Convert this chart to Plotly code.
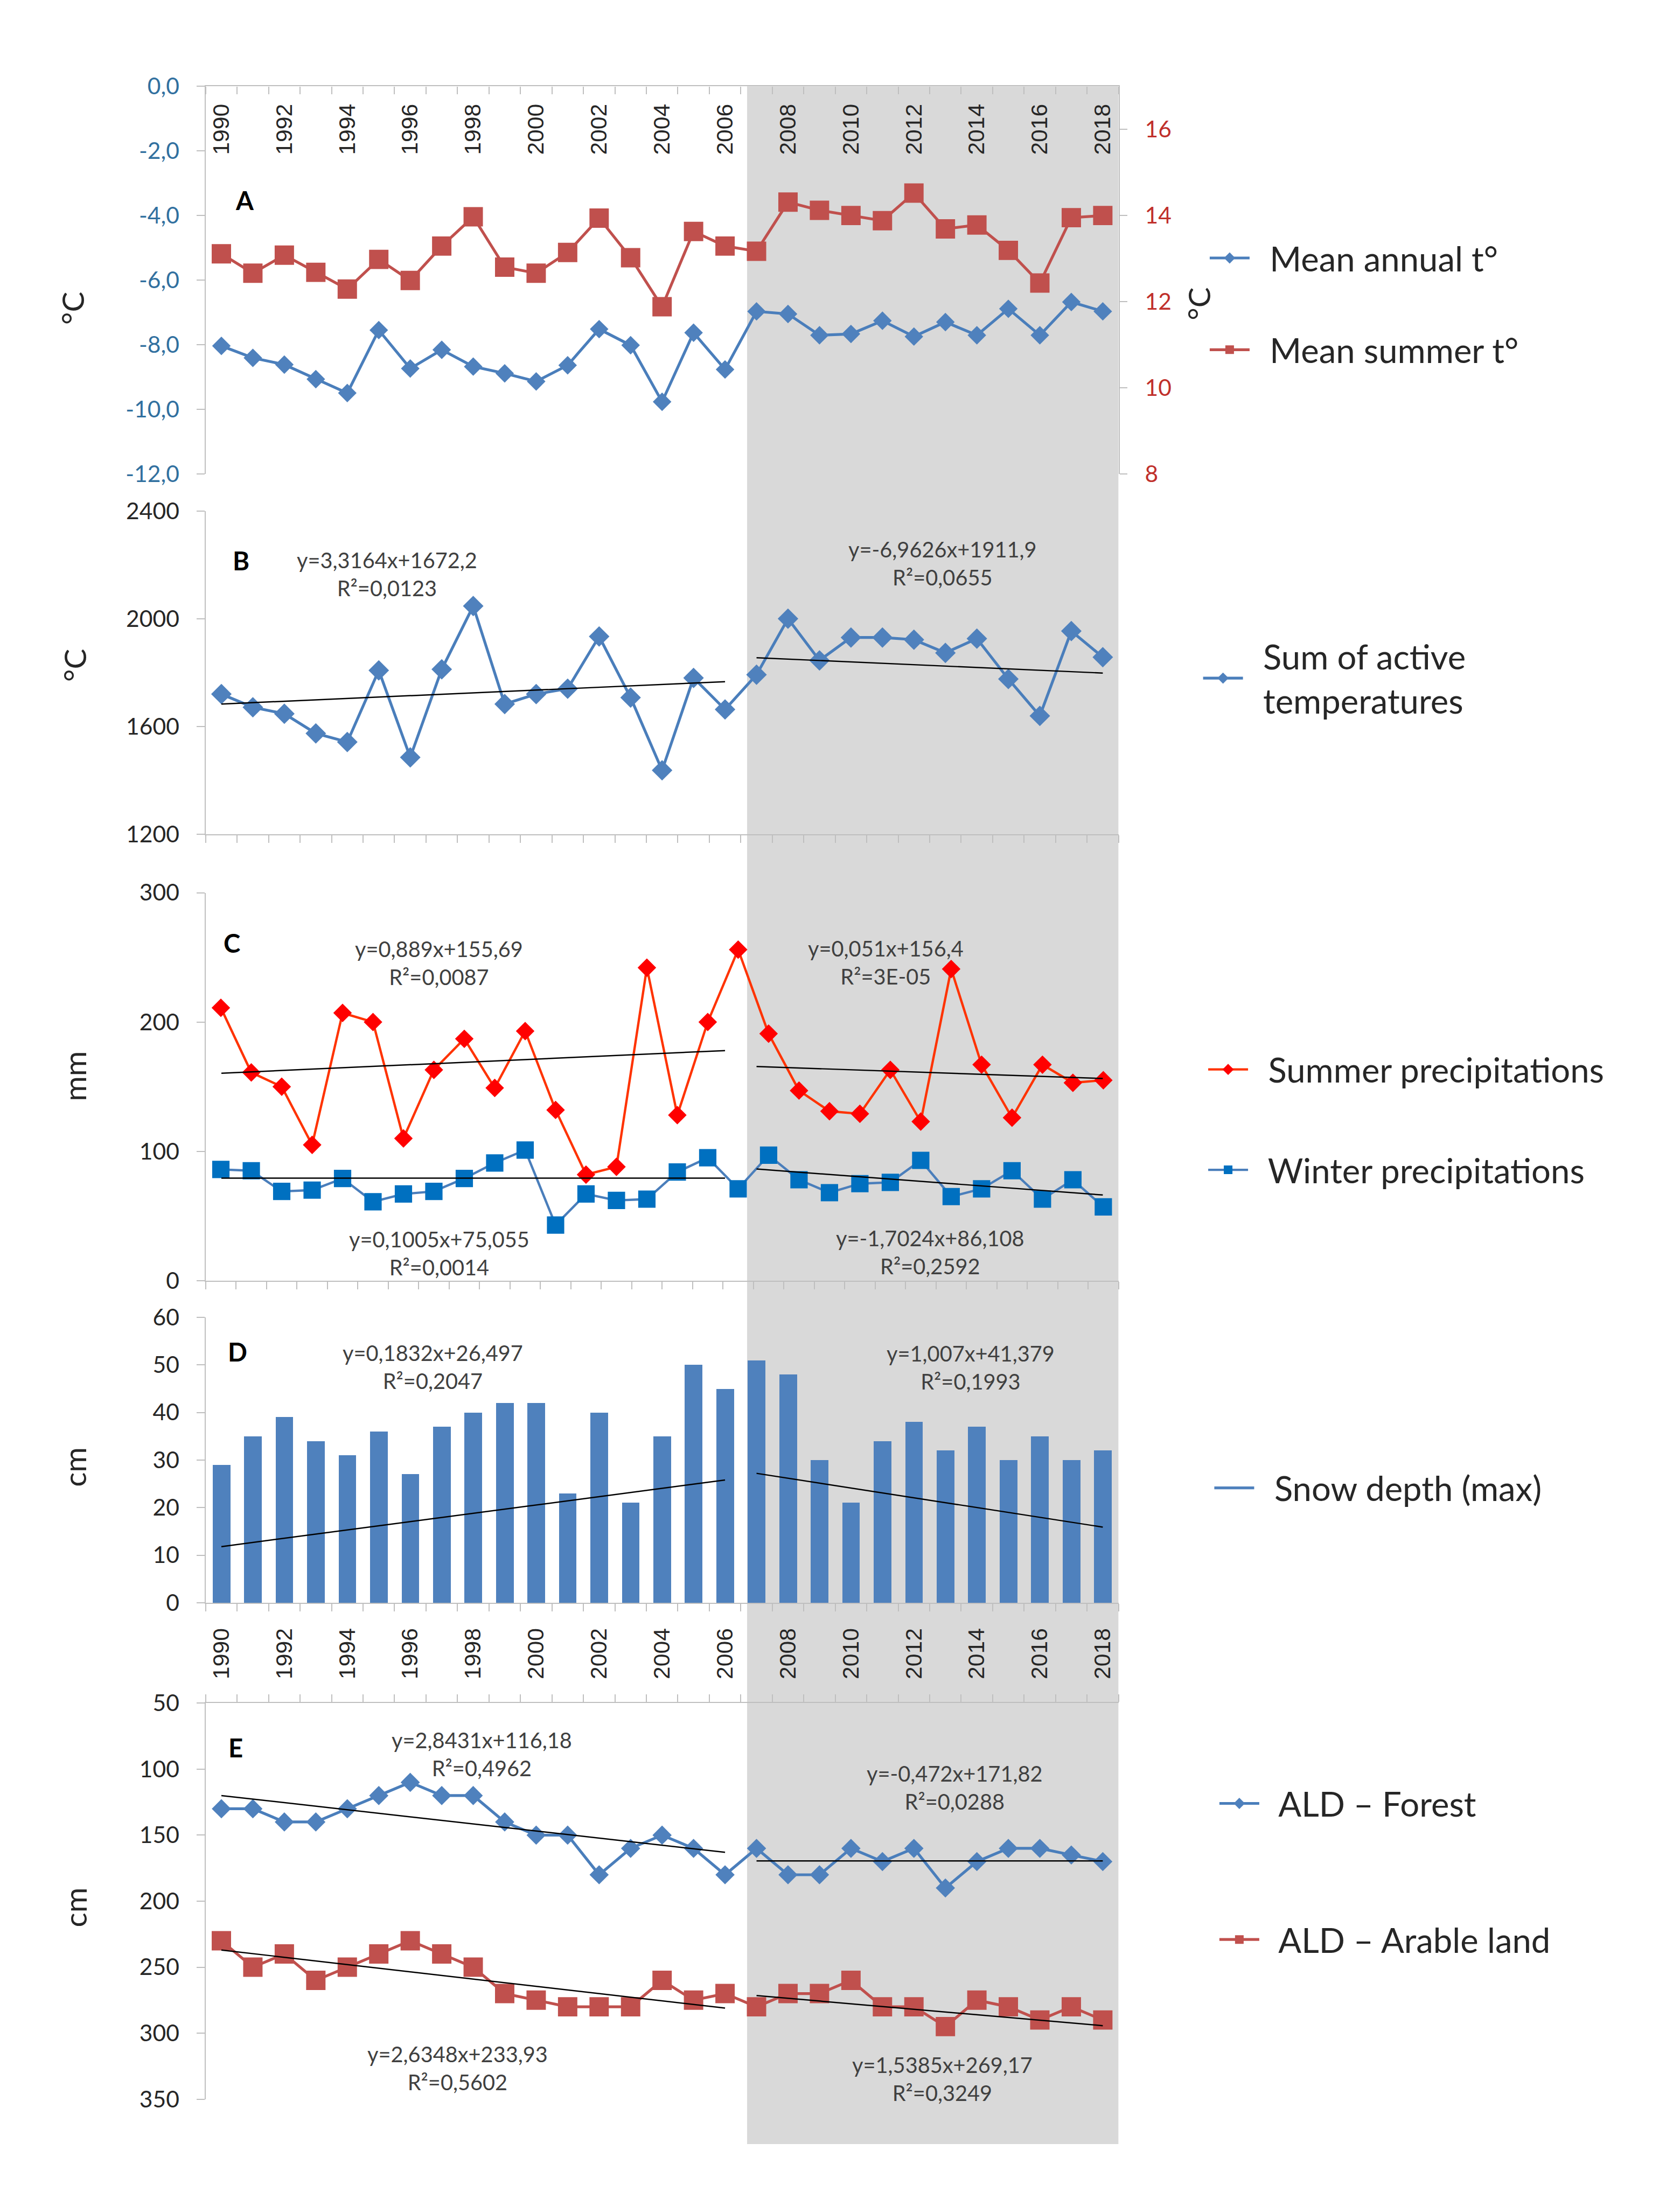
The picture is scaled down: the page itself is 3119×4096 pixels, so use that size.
import plotly.graph_objects as go

# ---------------- canvas ----------------
W, H = 3119, 4096
RW, RH = 3296, 4328          # reference size; everything is placed in reference px then scaled
S = W / RW


def fx(x):
    return x / RW


def fy(y):
    return 1 - y / RH


# ---------------- data ----------------
years = list(range(1990, 2019))
years_c = list(range(1989, 2019))          # panel C has 30 categories
label_years = list(range(1990, 2019, 2))

mean_annual = [-8.04, -8.41, -8.62, -9.07, -9.50, -7.55, -8.74, -8.16, -8.68, -8.89,
               -9.14, -8.64, -7.52, -8.02, -9.77, -7.63, -8.77, -6.97, -7.05, -7.71,
               -7.67, -7.26, -7.75, -7.30, -7.71, -6.89, -7.71, -6.68, -6.97]
mean_summer = [13.11, 12.66, 13.08, 12.68, 12.29, 12.98, 12.49, 13.29, 13.97, 12.80,
               12.66, 13.14, 13.94, 13.02, 11.88, 13.63, 13.29, 13.17, 14.31, 14.12,
               14.00, 13.88, 14.52, 13.69, 13.78, 13.19, 12.43, 13.95, 14.00]
active_temp = [1720, 1671, 1647, 1574, 1542, 1808, 1485, 1812, 2047, 1683,
               1720, 1740, 1934, 1707, 1437, 1780, 1663, 1792, 2000, 1845,
               1930, 1930, 1922, 1873, 1926, 1776, 1639, 1954, 1857]
summer_precip = [211, 161, 150, 105, 207, 200, 110, 163, 187, 149,
                 193, 132, 82, 88, 242, 128, 200, 256, 191, 147,
                 131, 129, 163, 123, 241, 167, 126, 167, 153, 155]
winter_precip = [86, 85, 69, 70, 79, 61, 67, 69, 79, 91,
                 101, 43, 67, 62, 63, 84, 95, 71, 97, 78,
                 68, 75, 76, 93, 65, 71, 85, 63, 78, 57]
snow_depth = [29, 35, 39, 34, 31, 36, 27, 37, 40, 42,
              42, 23, 40, 21, 35, 50, 45, 51, 48, 30,
              21, 34, 38, 32, 37, 30, 35, 30, 32]
ald_forest = [130, 130, 140, 140, 130, 120, 110, 120, 120, 140,
              150, 150, 180, 160, 150, 160, 180, 160, 180, 180,
              160, 170, 160, 190, 170, 160, 160, 165, 170]
ald_arable = [230, 250, 240, 260, 250, 240, 230, 240, 250, 270,
              275, 280, 280, 280, 260, 275, 270, 280, 270, 270,
              260, 280, 280, 295, 275, 280, 290, 280, 290]

# trend lines (end values)
trend_x_left = [1990, 2006]
trend_x_right = [2007, 2018]
trend_b_left, trend_b_right = [1683, 1766], [1855, 1798]
trend_cs_left, trend_cs_right = [160.4, 177.9], [165.6, 156.3]
trend_cw_left, trend_cw_right = [79.3, 79.3], [86.3, 66.2]
trend_d_left, trend_d_right = [11.8, 25.8], [27.2, 15.9]
trend_ef_left, trend_ef_right = [120.0, 163.0], [169.5, 169.5]
trend_ea_left, trend_ea_right = [237.0, 281.0], [271.5, 294.3]

# tick labels
a_left_vals = [-12, -10, -8, -6, -4, -2, 0]
a_left_text = ["-12,0", "-10,0", "-8,0", "-6,0", "-4,0", "-2,0", "0,0"]
a_right_vals = [8, 10, 12, 14, 16]
b_vals = [1200, 1600, 2000, 2400]
c_vals = [0, 100, 200, 300]
d_vals = [0, 10, 20, 30, 40, 50, 60]
e_vals = [50, 100, 150, 200, 250, 300, 350]

equations = [
    # (text, centre x, centre y) in reference px
    ("y=3,3164x+1672,2<br>R²=0,0123", 751, 1117),
    ("y=-6,9626x+1911,9<br>R²=0,0655", 1841, 1096),
    ("y=0,889x+155,69<br>R²=0,0087", 853, 1880),
    ("y=0,1005x+75,055<br>R²=0,0014", 853, 2450),
    ("y=0,051x+156,4<br>R²=3E-05", 1729, 1879),
    ("y=-1,7024x+86,108<br>R²=0,2592", 1817, 2448),
    ("y=0,1832x+26,497<br>R²=0,2047", 841, 2673),
    ("y=1,007x+41,379<br>R²=0,1993", 1896, 2674),
    ("y=2,8431x+116,18<br>R²=0,4962", 937, 3432),
    ("y=2,6348x+233,93<br>R²=0,5602", 889, 4048),
    ("y=-0,472x+171,82<br>R²=0,0288", 1865, 3498),
    ("y=1,5385x+269,17<br>R²=0,3249", 1840, 4070),
]

# ---------------- style ----------------
LATO = "Lato, 'Open Sans', sans-serif"
ARIAL = "'Liberation Sans', Arial, sans-serif"
AX = "#BFBFBF"
TXT = "#262626"
BLUE = "#4F81BD"
BLUE_LINE = "#4A7EBB"
RED = "#C0504D"
GRAY = "#D9D9D9"

LW = 5.5 * S
TW = 2.6 * S
GAP = "\u00a0\u00a0"     # small gap between legend symbol and legend text

fig = go.Figure()

# Panel A
fig.add_trace(go.Scatter(x=years, y=mean_annual, name=GAP + "Mean annual t°",
                         mode="lines+markers", line=dict(color=BLUE_LINE, width=LW),
                         marker=dict(symbol="diamond", size=28 * S, color=BLUE),
                         xaxis="x", yaxis="y", legend="legend"))
fig.add_trace(go.Scatter(x=years, y=mean_summer, name=GAP + "Mean summer t°",
                         mode="lines+markers", line=dict(color=RED, width=LW),
                         marker=dict(symbol="square", size=38 * S, color=RED),
                         xaxis="x", yaxis="y2", legend="legend2"))

# Panel B
fig.add_trace(go.Scatter(x=years, y=active_temp,
                         name=GAP + "Sum of active<br>" + GAP + "temperatures",
                         mode="lines+markers", line=dict(color=BLUE_LINE, width=LW),
                         marker=dict(symbol="diamond", size=31 * S, color=BLUE),
                         xaxis="x2", yaxis="y3", legend="legend3"))
for tx, ty in [(trend_x_left, trend_b_left), (trend_x_right, trend_b_right)]:
    fig.add_trace(go.Scatter(x=tx, y=ty, mode="lines", line=dict(color="black", width=TW),
                             showlegend=False, xaxis="x2", yaxis="y3", hoverinfo="skip"))

# Panel C
fig.add_trace(go.Scatter(x=years_c, y=summer_precip, name=GAP + "Summer precipitations",
                         mode="lines+markers", line=dict(color="#FF3300", width=4.6 * S),
                         marker=dict(symbol="diamond", size=28 * S, color="#FF0000"),
                         xaxis="x3", yaxis="y4", legend="legend4"))
fig.add_trace(go.Scatter(x=years_c, y=winter_precip, name=GAP + "Winter precipitations",
                         mode="lines+markers", line=dict(color=BLUE_LINE, width=4.6 * S),
                         marker=dict(symbol="square", size=34 * S, color="#0070C0"),
                         xaxis="x3", yaxis="y4", legend="legend5"))
for tx, ty in [(trend_x_left, trend_cs_left), (trend_x_right, trend_cs_right),
               (trend_x_left, trend_cw_left), (trend_x_right, trend_cw_right)]:
    fig.add_trace(go.Scatter(x=tx, y=ty, mode="lines", line=dict(color="black", width=TW),
                             showlegend=False, xaxis="x6", yaxis="y4", hoverinfo="skip"))

# Panel D
fig.add_trace(go.Bar(x=years, y=snow_depth, name="Snow depth (max)", width=0.56,
                     marker=dict(color=BLUE, line=dict(width=0)), showlegend=False,
                     xaxis="x4", yaxis="y5"))
fig.add_trace(go.Scatter(x=[None], y=[None], name=GAP + "Snow depth (max)", mode="lines",
                         line=dict(color=BLUE, width=LW), xaxis="x4", yaxis="y5",
                         legend="legend6", hoverinfo="skip"))
for tx, ty in [(trend_x_left, trend_d_left), (trend_x_right, trend_d_right)]:
    fig.add_trace(go.Scatter(x=tx, y=ty, mode="lines", line=dict(color="black", width=TW),
                             showlegend=False, xaxis="x4", yaxis="y5", hoverinfo="skip"))

# Panel E
fig.add_trace(go.Scatter(x=years, y=ald_forest, name=GAP + "ALD – Forest",
                         mode="lines+markers", line=dict(color=BLUE_LINE, width=LW),
                         marker=dict(symbol="diamond", size=29 * S, color=BLUE),
                         xaxis="x5", yaxis="y6", legend="legend7"))
fig.add_trace(go.Scatter(x=years, y=ald_arable, name=GAP + "ALD – Arable land",
                         mode="lines+markers", line=dict(color=RED, width=LW),
                         marker=dict(symbol="square", size=38 * S, color=RED),
                         xaxis="x5", yaxis="y6", legend="legend8"))
for tx, ty in [(trend_x_left, trend_ef_left), (trend_x_right, trend_ef_right),
               (trend_x_left, trend_ea_left), (trend_x_right, trend_ea_right)]:
    fig.add_trace(go.Scatter(x=tx, y=ty, mode="lines", line=dict(color="black", width=TW),
                             showlegend=False, xaxis="x5", yaxis="y6", hoverinfo="skip"))

# ---------------- axes ----------------
XD = [fx(395), fx(2186)]
TL = 15 * S


def xaxis(anchor, side="bottom", ticks="outside", labels=False, rng=(1989.5, 2018.5),
          tick0=1989.5, standoff=0):
    d = dict(domain=XD, anchor=anchor, side=side, range=list(rng), showgrid=False,
             zeroline=False, showline=True, linecolor=AX, linewidth=TW, ticks="",
             fixedrange=True, automargin=False,
             minor=dict(ticks=ticks, tickmode="linear", tick0=tick0, dtick=1, ticklen=TL,
                        tickcolor=AX, tickwidth=TW, showgrid=False))
    if labels:
        d.update(tickmode="array", tickvals=label_years, ticktext=[str(v) for v in label_years],
                 tickangle=-90, showticklabels=True,
                 tickfont=dict(family=ARIAL, size=45 * S, color=TXT),
                 ticklabelstandoff=standoff)
    else:
        d["showticklabels"] = False
    return d


def yaxis(anchor, dom, rng, vals, text=None, color=TXT, side="left", overlaying=None):
    d = dict(domain=dom, anchor=anchor, range=rng, side=side, showgrid=False, zeroline=False,
             showline=True, linecolor=AX, linewidth=TW, ticks="outside", ticklen=TL,
             tickcolor=AX, tickwidth=TW, tickmode="array", tickvals=vals,
             ticktext=text if text else [str(v) for v in vals],
             tickfont=dict(family=LATO, size=45 * S, color=color),
             ticklabelstandoff=int(26 * S), fixedrange=True, automargin=False)
    if overlaying:
        d["overlaying"] = overlaying
        d.pop("domain")
    return d


layout = dict(
    width=W, height=H, autosize=False,
    margin=dict(l=0, r=0, t=0, b=0, pad=0, autoexpand=False),
    paper_bgcolor="white", plot_bgcolor="rgba(0,0,0,0)",
    showlegend=True, bargap=0,
    xaxis=xaxis("y", side="top", ticks="inside", labels=True, standoff=-138),
    xaxis2=xaxis("y3"),
    xaxis3=xaxis("y4", rng=(1988.5, 2018.5), tick0=1988.5),
    xaxis4=xaxis("y5", labels=True, standoff=int(30 * S)),
    xaxis5=xaxis("y6", side="top"),
    xaxis6=dict(overlaying="x3", anchor="y4", range=[1989.5, 2018.5], visible=False,
                fixedrange=True, automargin=False),
    yaxis=yaxis("x", [fy(921), fy(161)], [-12, 0], a_left_vals, a_left_text, color="#31709F"),
    yaxis2=yaxis("x", None, [8, 17], a_right_vals, color="#C0302B", side="right",
                 overlaying="y"),
    yaxis3=yaxis("x2", [fy(1628), fy(994)], [1200, 2400], b_vals),
    yaxis4=yaxis("x3", [fy(2504), fy(1743)], [0, 300], c_vals),
    yaxis5=yaxis("x4", [fy(3136), fy(2576)], [0, 60], d_vals),
    yaxis6=yaxis("x5", [fy(4110), fy(3333)], [350, 50], e_vals),
)

# legends: one per item, placed like the reference (text start x, item centre y)
legend_pos = {
    "legend": (2497, 498),
    "legend2": (2497, 678),
    "legend3": (2484, 1322),
    "legend4": (2494, 2090),
    "legend5": (2494, 2287),
    "legend6": (2506, 2911),
    "legend7": (2516, 3530),
    "legend8": (2516, 3797),
}
ITEM_W = 74
for key, (tx, ty) in legend_pos.items():
    layout[key] = dict(x=fx(tx) - (ITEM_W + 19 + 37) / W, y=fy(ty), xanchor="left",
                       yanchor="middle", bgcolor="rgba(0,0,0,0)", borderwidth=0,
                       itemwidth=ITEM_W,
                       font=dict(family=LATO, size=67 * S, color=TXT))

fig.update_layout(**layout)

# grey highlight of the recent period, across all panels
fig.add_shape(type="rect", xref="x", yref="paper", x0=2006.7, x1=2018.5,
              y0=fy(4198), y1=fy(161), fillcolor=GRAY, line=dict(width=0), layer="below")

annotations = []
for text, cx, cy in equations:
    annotations.append(dict(text=text, x=fx(cx), y=fy(cy), xref="paper", yref="paper",
                            xanchor="center", yanchor="middle", showarrow=False,
                            font=dict(family=LATO, size=42 * S, color="#404040")))
for letter, cx, cy in [("A", 472, 384), ("B", 464, 1091), ("C", 447, 1841),
                       ("D", 458, 2643), ("E", 454, 3420)]:
    annotations.append(dict(text="<b>%s</b>" % letter, x=fx(cx), y=fy(cy), xref="paper",
                            yref="paper", xanchor="center", yanchor="middle", showarrow=False,
                            font=dict(family=LATO, size=50 * S, color="black")))
for text, cx, cy in [("°C", 133, 596), ("°C", 2343, 588), ("°C", 138, 1297),
                     ("mm", 138, 2103), ("cm", 138, 2870), ("cm", 138, 3734)]:
    annotations.append(dict(text=text, x=fx(cx), y=fy(cy), xref="paper", yref="paper",
                            xanchor="center", yanchor="middle", showarrow=False, textangle=-90,
                            font=dict(family=LATO, size=60 * S, color=TXT)))
fig.update_layout(annotations=annotations)

fig.write_html("out.html")
